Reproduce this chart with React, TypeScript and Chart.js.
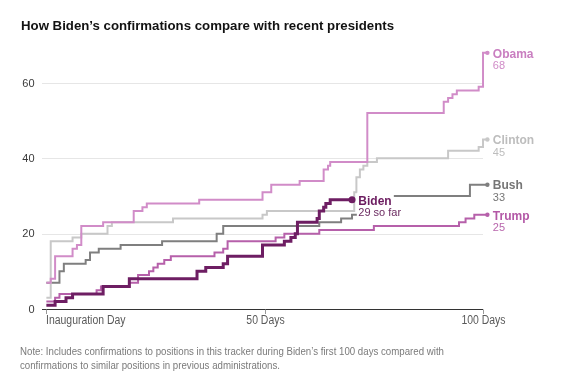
import React, { useEffect, useRef } from 'react';
import { Chart, registerables } from 'chart.js';

Chart.register(...registerables);

// ---- data (days since inauguration -> cumulative confirmations, step points) ----
const obamaDays = [0, 1, 2, 6, 7, 8, 13, 20, 22, 23, 35, 49.5, 51.5, 58, 63.5, 64.5, 65, 73.5, 91, 92, 93, 94, 99, 100, 101];
const obamaValues = [7, 8, 14, 16, 17, 22, 23, 26, 27, 28, 29, 31, 33, 34, 37, 38, 39, 52, 55, 56, 57, 58, 59, 68, 68];

const clintonDays = [0, 1, 6, 8, 14, 15, 29, 49.5, 50.5, 70.5, 71, 71.8, 72.6, 73.5, 75.7, 92, 99, 100, 101];
const clintonValues = [3, 18, 19, 20, 22, 23, 24, 25, 26, 31, 35, 37, 38, 39, 40, 42, 43, 45, 45];

const bushDays = [0, 3, 4, 9, 10, 12, 17, 26.5, 39, 40.5, 62.5, 67.5, 70, 74, 97, 101];
const bushValues = [7, 10, 12, 13, 15, 16, 17, 18, 20, 22, 23, 24, 25, 30, 33, 33];

const trumpDays = [0, 2, 3, 11.5, 12.5, 19, 21, 23.5, 24.5, 25.5, 27, 28.5, 38.5, 40.5, 41.5, 52.5, 54.5, 62.5, 75, 94.5, 96, 98, 101];
const trumpValues = [2, 3, 4, 5, 6, 7, 9, 10, 11, 12, 13, 14, 15, 16, 18, 19, 20, 21, 22, 23, 24, 25, 25];

const bidenDays = [0, 2, 4.5, 6, 13, 19, 34.5, 36.5, 40.5, 41.5, 49.5, 54.5, 56, 57, 57.5, 62, 62.5, 63.5, 64, 65, 70];
const bidenValues = [1, 2, 3, 4, 6, 8, 10, 11, 12, 14, 17, 18, 19, 20, 23, 24, 26, 27, 28, 29, 29];

const seriesNames = ['Biden', 'Obama', 'Clinton', 'Bush', 'Trump'];
const seriesNotes = ['29 so far', '68', '45', '33', '25'];
const seriesDays = [bidenDays, obamaDays, clintonDays, bushDays, trumpDays];
const seriesValues = [bidenValues, obamaValues, clintonValues, bushValues, trumpValues];

const yTicks = [0, 20, 40, 60];
const xTicks = [0, 50, 100];
const xTickLabels = ['Inauguration Day', '50 Days', '100 Days'];

const titleText = 'How Biden\u2019s confirmations compare with recent presidents';
const noteLines = [
  'Note: Includes confirmations to positions in this tracker during Biden\u2019s first 100 days compared with',
  'confirmations to similar positions in previous administrations.',
];

// ---- styles ----
const lineColors = ['#6e1e63', '#d18cc8', '#c8c8c8', '#7f7f7f', '#b660aa'];
const nameColors = ['#6b1b5f', '#c97ec0', '#bdbdbd', '#767676', '#b358a6'];
const noteColors = ['#6b2a60', '#d08bc7', '#bdbdbd', '#767676', '#b866ac'];
const lineWidths = [3, 2, 2, 2, 2];
const dotRadius = [3.5, 2.2, 2.2, 2.2, 2.2];

const measureWidth = (text: string, font: string) => {
  const c = document.createElement('canvas');
  const ctx = c.getContext('2d')!;
  ctx.font = font;
  return ctx.measureText(text).width;
};

const FONT = '"Liberation Sans", Arial, sans-serif';

const decor = {
  id: 'decor',
  beforeDatasetsDraw(chart: any) {
    const { ctx, scales } = chart;
    const xs = scales.x;
    const ys = scales.y;
    const xL = xs.getPixelForValue(-1);
    const xR = xs.getPixelForValue(100);
    ctx.save();
    // gridlines
    yTicks.forEach((v) => {
      if (v === 0) return;
      const py = Math.round(ys.getPixelForValue(v)) + 0.5;
      ctx.strokeStyle = '#e6e6e6';
      ctx.lineWidth = 1;
      ctx.beginPath();
      ctx.moveTo(xL, py);
      ctx.lineTo(xR, py);
      ctx.stroke();
    });
    // y labels
    ctx.fillStyle = '#3a3a3a';
    ctx.font = `11px ${FONT}`;
    ctx.textAlign = 'right';
    ctx.textBaseline = 'middle';
    yTicks.forEach((v) => {
      const py = ys.getPixelForValue(v);
      ctx.fillText(String(v), 34.5, py + 0.5);
    });
    // baseline
    const p0 = Math.round(ys.getPixelForValue(0)) + 0.5;
    ctx.strokeStyle = '#333333';
    ctx.lineWidth = 1;
    ctx.beginPath();
    ctx.moveTo(xL, p0);
    ctx.lineTo(xR, p0);
    ctx.stroke();
    // x ticks + labels
    ctx.strokeStyle = '#999999';
    ctx.fillStyle = '#5a5a5a';
    ctx.font = `12px ${FONT}`;
    ctx.textBaseline = 'alphabetic';
    xTicks.forEach((d, i) => {
      const px = Math.round(xs.getPixelForValue(d)) + 0.5;
      ctx.beginPath();
      ctx.moveTo(px, p0);
      ctx.lineTo(px, p0 + 4.5);
      ctx.stroke();
      ctx.save();
      ctx.translate(i === 0 ? px - 0.5 : px, 324.3);
      ctx.scale(0.87, 1);
      ctx.textAlign = i === 0 ? 'left' : 'center';
      ctx.fillText(xTickLabels[i], 0, 0);
      ctx.restore();
    });
    ctx.restore();
  },
  afterDatasetsDraw(chart: any) {
    const { ctx } = chart;
    ctx.save();
    seriesNames.forEach((name, i) => {
      const meta = chart.getDatasetMeta(i);
      const pt = meta.data[meta.data.length - 1];
      const px = pt.x;
      const py = pt.y;
      const lx = px + (i === 0 ? 6.3 : 5.4);
      if (i === 0) {
        ctx.fillStyle = '#ffffff';
        ctx.fillRect(lx - 1.5, py - 7, 37, 26);
      }
      ctx.textAlign = 'left';
      ctx.textBaseline = 'alphabetic';
      ctx.font = `bold 12px ${FONT}`;
      ctx.fillStyle = nameColors[i];
      ctx.fillText(name, lx, py + 4.8);
      ctx.font = `11px ${FONT}`;
      ctx.fillStyle = noteColors[i];
      ctx.fillText(seriesNotes[i], lx, py + 16.6);
    });
    ctx.restore();
  },
};

export default function App() {
  const canvasRef = useRef<HTMLCanvasElement | null>(null);

  useEffect(() => {
    const canvas = canvasRef.current;
    if (!canvas) return;
    const datasets = seriesNames.map((name, i) => {
      const last = seriesDays[i].length - 1;
      return {
        label: name,
        data: seriesDays[i].map((d, j) => ({ x: d, y: seriesValues[i][j] })),
        borderColor: lineColors[i],
        backgroundColor: lineColors[i],
        borderWidth: lineWidths[i],
        borderJoinStyle: 'miter' as const,
        borderCapStyle: 'butt' as const,
        stepped: 'before' as const,
        fill: false,
        clip: 10,
        order: i,
        pointRadius: (c: any) => (c.dataIndex === last ? dotRadius[i] : 0),
        pointBorderWidth: 0,
        pointBackgroundColor: lineColors[i],
        pointHoverRadius: 0,
      };
    });
    const chart = new Chart(canvas, {
      type: 'line',
      data: { datasets },
      options: {
        animation: false,
        responsive: false,
        maintainAspectRatio: false,
        devicePixelRatio: 1,
        events: [],
        layout: { padding: { left: 42, right: 75.6, top: 45.3, bottom: 75 } },
        scales: {
          x: { type: 'linear', min: -1, max: 101, display: false },
          y: { type: 'linear', min: 0, max: 70, display: false },
        },
        plugins: {
          legend: { display: false },
          tooltip: { enabled: false },
          title: { display: false },
        },
      } as any,
      plugins: [decor],
    });
    return () => chart.destroy();
  }, []);

  const titleFont = `bold 13.5px ${FONT}`;
  const titleScale = 373 / measureWidth(titleText, titleFont);
  const noteFont = `10.5px ${FONT}`;
  const noteScale = 424 / measureWidth(noteLines[0], noteFont);

  return (
    <div style={{ position: 'absolute', left: 0, top: 0, width: 563, height: 384, background: '#fff', overflow: 'hidden' }}>
      <canvas ref={canvasRef} width={563} height={384} style={{ position: 'absolute', left: 0, top: 0, width: 563, height: 384 }} />
      <div
        style={{
          position: 'absolute', left: 21, top: 17.6, whiteSpace: 'nowrap',
          font: titleFont, lineHeight: '16px', color: '#121212',
          transform: `scaleX(${titleScale})`, transformOrigin: 'left top',
        }}
      >
        {titleText}
      </div>
      {noteLines.map((line, i) => (
        <div
          key={i}
          style={{
            position: 'absolute', left: 19.5, top: 343.9 + i * 14, whiteSpace: 'nowrap',
            font: noteFont, lineHeight: '14px', color: '#7a7a7a',
            transform: `scaleX(${noteScale})`, transformOrigin: 'left top',
          }}
        >
          {line}
        </div>
      ))}
    </div>
  );
}
